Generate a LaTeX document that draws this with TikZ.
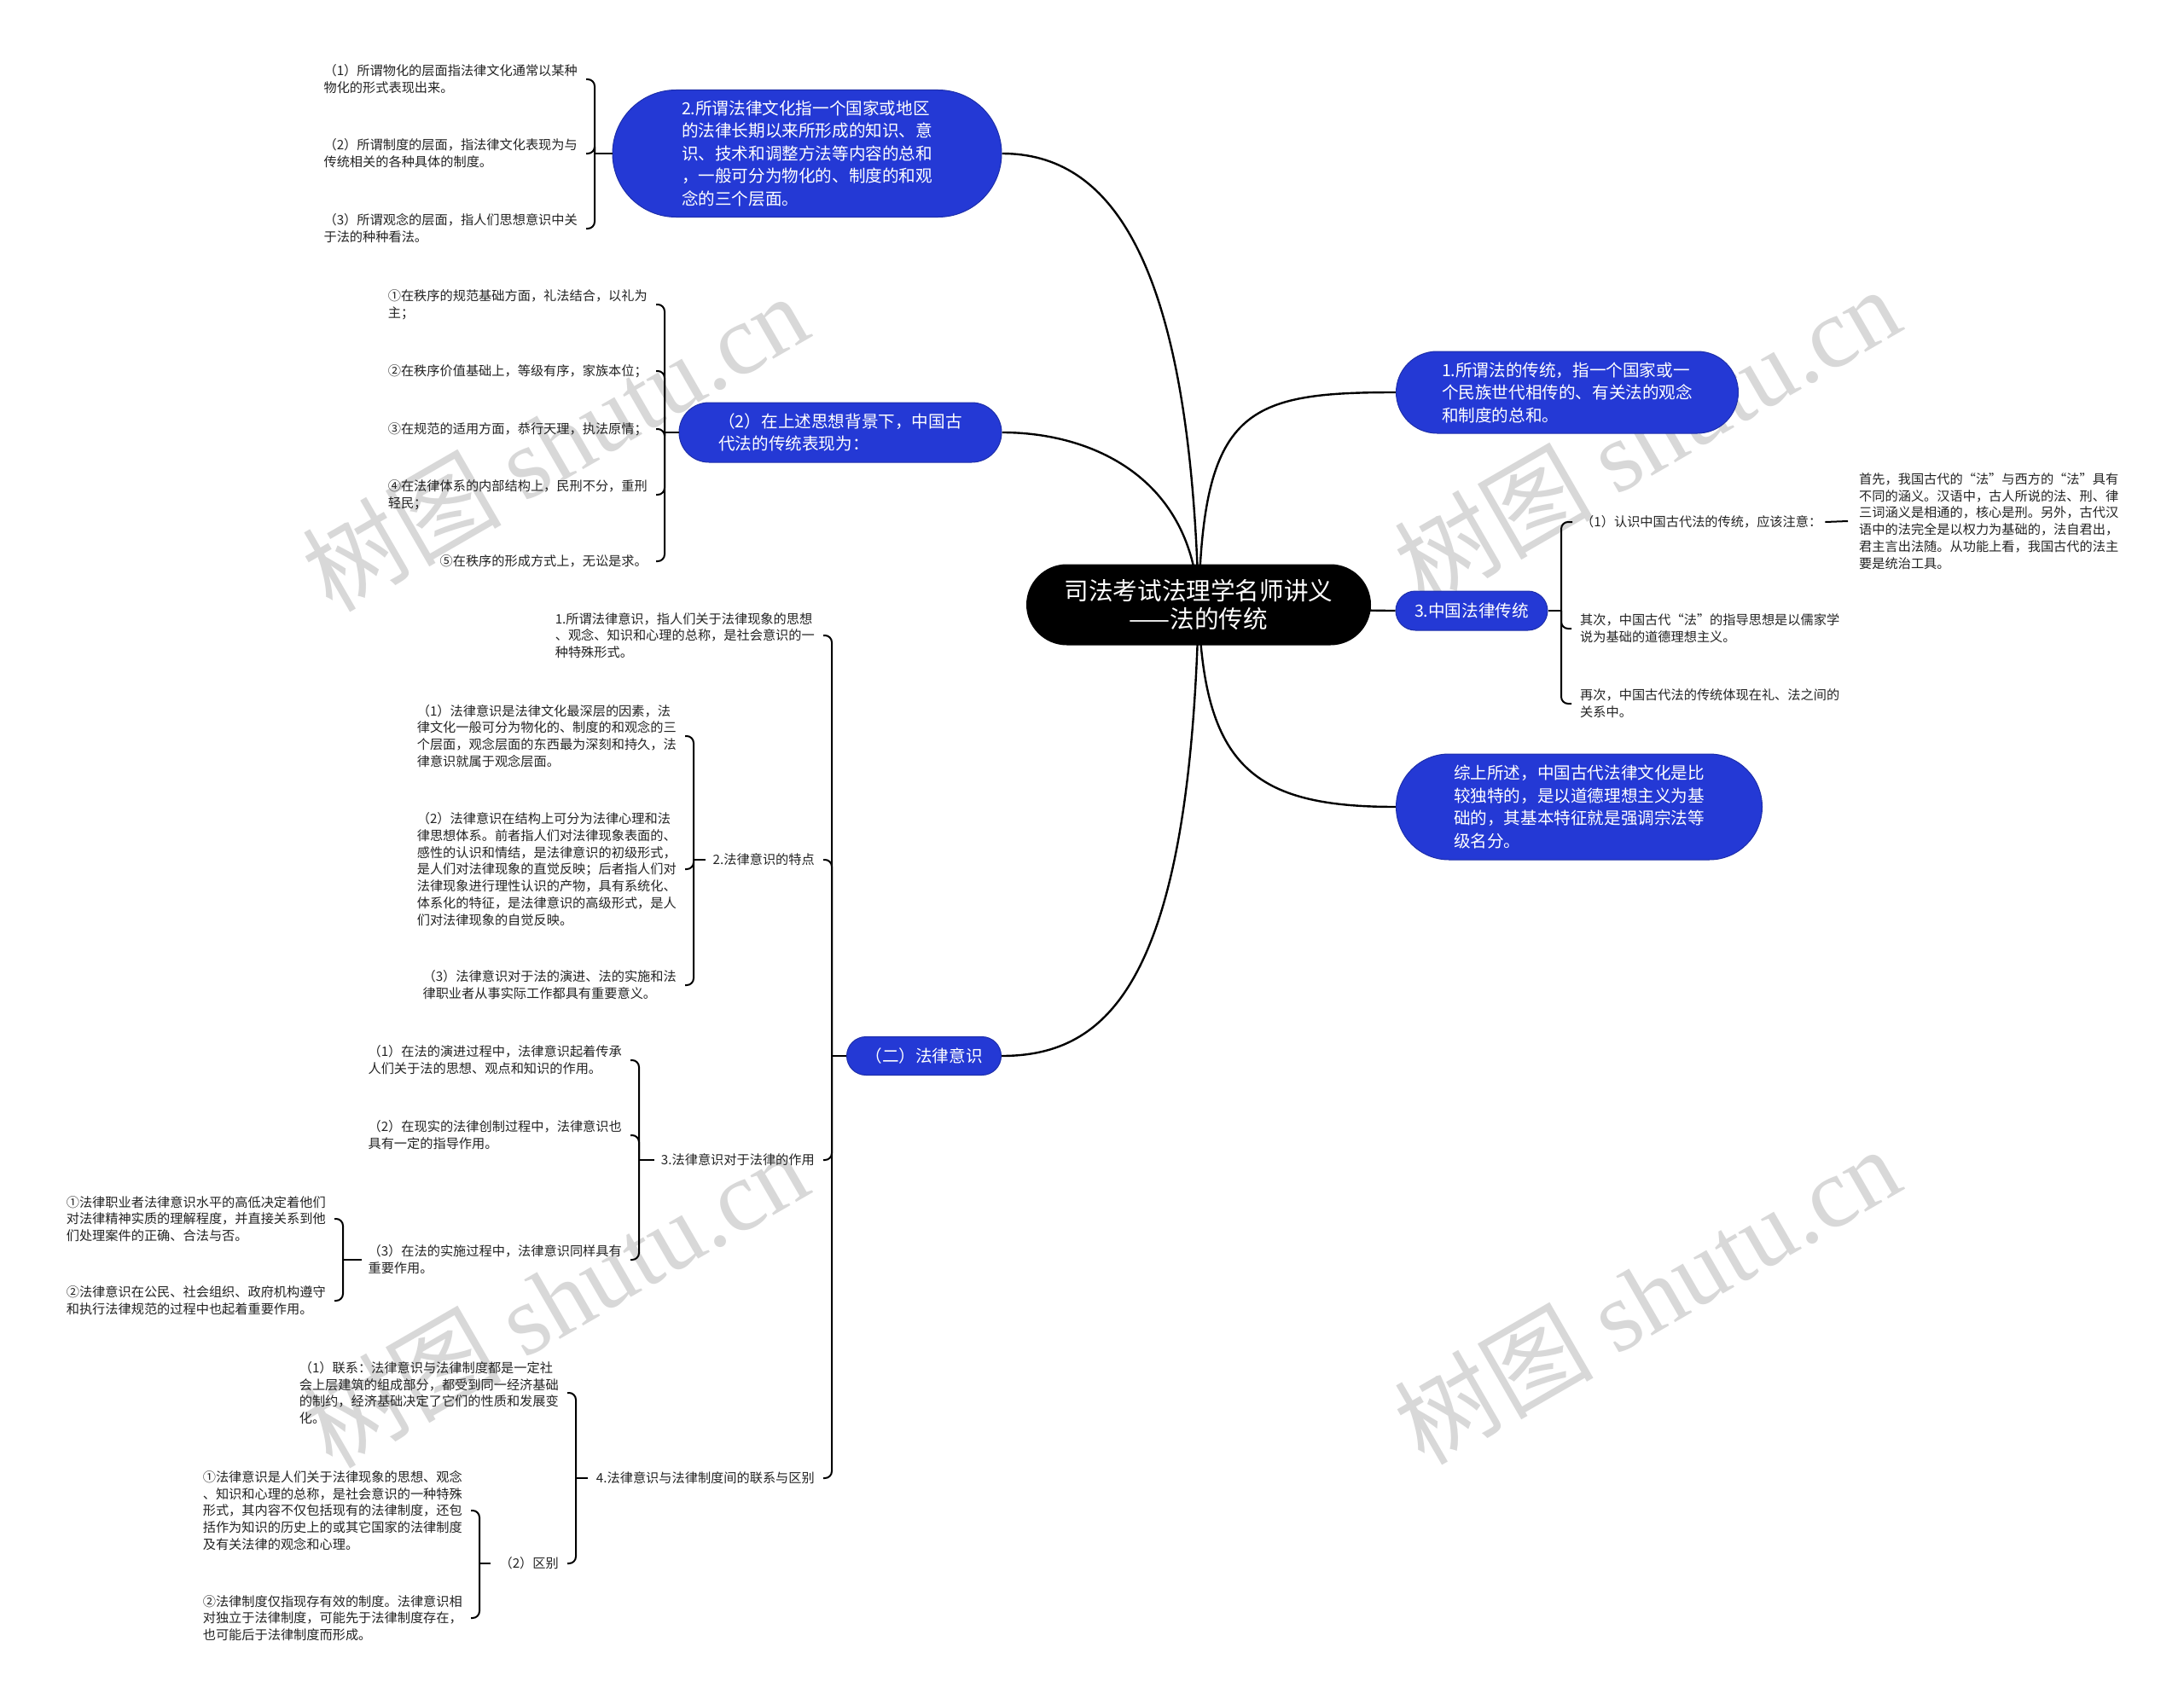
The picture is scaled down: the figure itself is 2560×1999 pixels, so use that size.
\documentclass[tikz,border=0pt]{standalone}
\usepackage{fontspec}
\setmainfont{Noto Sans CJK SC}
\newfontfamily\wmlatin{Liberation Serif}
\usetikzlibrary{calc}
\definecolor{nodeblue}{RGB}{36,57,213}
\definecolor{leafgray}{RGB}{35,35,35}
\definecolor{wmgray}{RGB}{216,216,216}
\newcommand\leaffont{\fontsize{15.2pt}{19.8pt}\selectfont}
\newcommand\bluefont{\fontsize{19.6pt}{26.5pt}\selectfont}
\newcommand\rootfont{\fontsize{28.6pt}{33pt}\selectfont}
\newcommand\wmfont{\fontsize{117pt}{117pt}\selectfont}
\pgfdeclarelayer{wmlayer}
\pgfdeclarelayer{bglayer}
\pgfsetlayers{wmlayer,bglayer,main}
\begin{document}
\begin{tikzpicture}[x=1pt,y=-1pt,
  conn/.style={line width=2pt, draw=black, rounded corners=8pt},
  rootconn/.style={line width=2.4pt, draw=black},
  leaf/.style={font=\leaffont, align=left, inner sep=0pt, text=leafgray},
  bluebox/.style={fill=nodeblue, draw=nodeblue!80!black, line width=1pt, text=white, font=\bluefont, align=left, inner sep=0pt},
  rootbox/.style={fill=black, text=white, font=\rootfont, align=center, inner sep=0pt},
  wm/.style={text=wmgray, rotate=30, inner sep=0pt, font=\wmfont}]
\useasboundingbox (0,0) rectangle (2560,1999);

% background and watermarks
\begin{pgfonlayer}{wmlayer}
\fill[white] (0,0) rectangle (2560,1999);
\node[wm] (wm1) at (650,518) {树图 {\wmlatin shutu.cn}};
\node[wm] (wm2) at (1930,510) {树图 {\wmlatin shutu.cn}};
\node[wm] (wm3) at (650,1522) {树图 {\wmlatin shutu.cn}};
\node[wm] (wm4) at (1930,1518) {树图 {\wmlatin shutu.cn}};
\end{pgfonlayer}

% root and main branches
\node[rootbox, minimum width=404pt, minimum height=95pt, rounded corners=47.5pt] (root) at (1405,709) {司法考试法理学名师讲义\\——法的传统};

\node[bluebox, minimum width=456pt, minimum height=149pt, rounded corners=74.5pt] (n2) at (946,180) {2.所谓法律文化指一个国家或地区\\的法律长期以来所形成的知识、意\\识、技术和调整方法等内容的总和\\，一般可分为物化的、制度的和观\\念的三个层面。};
\node[bluebox, minimum width=378pt, minimum height=70pt, rounded corners=35pt] (nP2) at (985,507) {（2）在上述思想背景下，中国古\\代法的传统表现为：};
\node[bluebox, minimum width=181pt, minimum height=45pt, rounded corners=22.5pt] (nLaw) at (1083,1238) {（二）法律意识};
\node[bluebox, minimum width=401pt, minimum height=96pt, rounded corners=48pt] (nTrad) at (1837,460) {1.所谓法的传统，指一个国家或一\\个民族世代相传的、有关法的观念\\和制度的总和。};
\node[bluebox, minimum width=178pt, minimum height=46pt, rounded corners=23pt] (nCN) at (1725,716) {3.中国法律传统};
\node[bluebox, minimum width=429pt, minimum height=124pt, rounded corners=62pt] (nSum) at (1851,946) {综上所述，中国古代法律文化是比\\较独特的，是以道德理想主义为基\\础的，其基本特征就是强调宗法等\\级名分。};

\begin{pgfonlayer}{bglayer}
\draw[rootconn] (root.center) .. controls (1395,300) and (1300,180) .. (n2.east);
\draw[rootconn] (root.center) .. controls (1398,560) and (1280,507) .. (nP2.east);
\draw[rootconn] (root.center) .. controls (1410,480) and (1460,460) .. (nTrad.west);
\draw[rootconn] (root.center) .. controls (1500,709) and (1560,716) .. (nCN.west);
\draw[rootconn] (root.center) .. controls (1410,900) and (1470,946) .. (nSum.west);
\draw[rootconn] (root.center) .. controls (1395,1150) and (1300,1238) .. (nLaw.east);
\end{pgfonlayer}

% ---------- group A (left of n2)
\node[leaf, anchor=east] (A1) at (677,93) {（1）所谓物化的层面指法律文化通常以某种\\物化的形式表现出来。};
\node[leaf, anchor=east] (A2) at (677,180) {（2）所谓制度的层面，指法律文化表现为与\\传统相关的各种具体的制度。};
\node[leaf, anchor=east] (A3) at (677,268) {（3）所谓观念的层面，指人们思想意识中关\\于法的种种看法。};
\coordinate (jA) at (697,180);
\foreach \n in {A1,A2,A3} {\coordinate (\n c) at ([xshift=10pt]\n.east); \draw[conn] (jA) |- (\n c);}
\draw[conn] (n2.west) -- (jA);

% ---------- group B (left of nP2)
\node[leaf, anchor=east] (B1) at (759,357) {①在秩序的规范基础方面，礼法结合，以礼为\\主；};
\node[leaf, anchor=east] (B2) at (759,435) {②在秩序价值基础上，等级有序，家族本位；};
\node[leaf, anchor=east] (B3) at (759,503) {③在规范的适用方面，恭行天理，执法原情；};
\node[leaf, anchor=east] (B4) at (759,580) {④在法律体系的内部结构上，民刑不分，重刑\\轻民；};
\node[leaf, anchor=east] (B5) at (759,658) {⑤在秩序的形成方式上，无讼是求。};
\coordinate (jB) at (779,507);
\foreach \n in {B1,B2,B3,B4,B5} {\coordinate (\n c) at ([xshift=10pt]\n.east); \draw[conn] (jB) |- (\n c);}
\draw[conn] (nP2.west) -- (jB);

% ---------- group C (left of nLaw)
\node[leaf, anchor=east] (C1) at (955,745) {1.所谓法律意识，指人们关于法律现象的思想\\、观念、知识和心理的总称，是社会意识的一\\种特殊形式。};
\node[leaf, anchor=east] (C2) at (955,1008) {2.法律意识的特点};
\node[leaf, anchor=east] (C3) at (955,1360) {3.法律意识对于法律的作用};
\node[leaf, anchor=east] (C4) at (955,1733) {4.法律意识与法律制度间的联系与区别};
\coordinate (jC) at (975,1238);
\foreach \n in {C1,C2,C3,C4} {\coordinate (\n c) at ([xshift=10pt]\n.east); \draw[conn] (jC) |- (\n c);}
\draw[conn] (nLaw.west) -- (jC);

% ---------- group D (left of C2)
\node[leaf, anchor=east] (D1) at (793,863) {（1）法律意识是法律文化最深层的因素，法\\律文化一般可分为物化的、制度的和观念的三\\个层面，观念层面的东西最为深刻和持久，法\\律意识就属于观念层面。};
\node[leaf, anchor=east] (D2) at (793,1019) {（2）法律意识在结构上可分为法律心理和法\\律思想体系。前者指人们对法律现象表面的、\\感性的认识和情结，是法律意识的初级形式，\\是人们对法律现象的直觉反映；后者指人们对\\法律现象进行理性认识的产物，具有系统化、\\体系化的特征，是法律意识的高级形式，是人\\们对法律现象的自觉反映。};
\node[leaf, anchor=east] (D3) at (793,1155) {（3）法律意识对于法的演进、法的实施和法\\律职业者从事实际工作都具有重要意义。};
\coordinate (jD) at (813,1008);
\foreach \n in {D1,D2,D3} {\coordinate (\n c) at ([xshift=10pt]\n.east); \draw[conn] (jD) |- (\n c);}
\draw[conn] ([xshift=-9pt]C2.west) -- (jD);

% ---------- group E (left of C3)
\node[leaf, anchor=east] (E1) at (729,1243) {（1）在法的演进过程中，法律意识起着传承\\人们关于法的思想、观点和知识的作用。};
\node[leaf, anchor=east] (E2) at (729,1331) {（2）在现实的法律创制过程中，法律意识也\\具有一定的指导作用。};
\node[leaf, anchor=east] (E3) at (729,1477) {（3）在法的实施过程中，法律意识同样具有\\重要作用。};
\coordinate (jE) at (749,1360);
\foreach \n in {E1,E2,E3} {\coordinate (\n c) at ([xshift=10pt]\n.east); \draw[conn] (jE) |- (\n c);}
\draw[conn] ([xshift=-8pt]C3.west) -- (jE);

% ---------- group F (left of E3)
\node[leaf, anchor=east] (F1) at (382,1429) {①法律职业者法律意识水平的高低决定着他们\\对法律精神实质的理解程度，并直接关系到他\\们处理案件的正确、合法与否。};
\node[leaf, anchor=east] (F2) at (382,1525) {②法律意识在公民、社会组织、政府机构遵守\\和执行法律规范的过程中也起着重要作用。};
\coordinate (jF) at (402,1477);
\foreach \n in {F1,F2} {\coordinate (\n c) at ([xshift=10pt]\n.east); \draw[conn] (jF) |- (\n c);}
\draw[conn] ([xshift=-7pt]E3.west) -- (jF);

% ---------- group G (left of C4)
\node[leaf, anchor=east] (G1) at (655,1633) {（1）联系：法律意识与法律制度都是一定社\\会上层建筑的组成部分，都受到同一经济基础\\的制约，经济基础决定了它们的性质和发展变\\化。};
\node[leaf, anchor=east] (G2) at (655,1833) {（2）区别};
\coordinate (jG) at (675,1733);
\foreach \n in {G1,G2} {\coordinate (\n c) at ([xshift=10pt]\n.east); \draw[conn] (jG) |- (\n c);}
\draw[conn] ([xshift=-10pt]C4.west) -- (jG);

% ---------- group H (left of G2)
\node[leaf, anchor=east] (H1) at (542,1771) {①法律意识是人们关于法律现象的思想、观念\\、知识和心理的总称，是社会意识的一种特殊\\形式，其内容不仅包括现有的法律制度，还包\\括作为知识的历史上的或其它国家的法律制度\\及有关法律的观念和心理。};
\node[leaf, anchor=east] (H2) at (542,1897) {②法律制度仅指现存有效的制度。法律意识相\\对独立于法律制度，可能先于法律制度存在，\\也可能后于法律制度而形成。};
\coordinate (jH) at (562,1833);
\foreach \n in {H1,H2} {\coordinate (\n c) at ([xshift=10pt]\n.east); \draw[conn] (jH) |- (\n c);}
\draw[conn] ([xshift=-10pt]G2.west) -- (jH);

% ---------- group I (right of nCN)
\node[leaf, anchor=west] (I1) at (1853,612) {（1）认识中国古代法的传统，应该注意：};
\node[leaf, anchor=west] (I2) at (1852,737) {其次，中国古代“法”的指导思想是以儒家学\\说为基础的道德理想主义。};
\node[leaf, anchor=west] (I3) at (1852,825) {再次，中国古代法的传统体现在礼、法之间的\\关系中。};
\coordinate (jI) at (1830,716);
\foreach \n in {I1,I2,I3} {\coordinate (\n c) at ([xshift=-10pt]\n.west); \draw[conn] (jI) |- (\n c);}
\draw[conn] (nCN.east) -- (jI);

\node[leaf, anchor=west] (I1a) at (2179,611) {首先，我国古代的“法”与西方的“法”具有\\不同的涵义。汉语中，古人所说的法、刑、律\\三词涵义是相通的，核心是刑。另外，古代汉\\语中的法完全是以权力为基础的，法自君出，\\君主言出法随。从功能上看，我国古代的法主\\要是统治工具。};
\draw[conn] ([xshift=4pt]I1.east) -- ([xshift=-13pt]I1a.west);
\end{tikzpicture}
\end{document}
